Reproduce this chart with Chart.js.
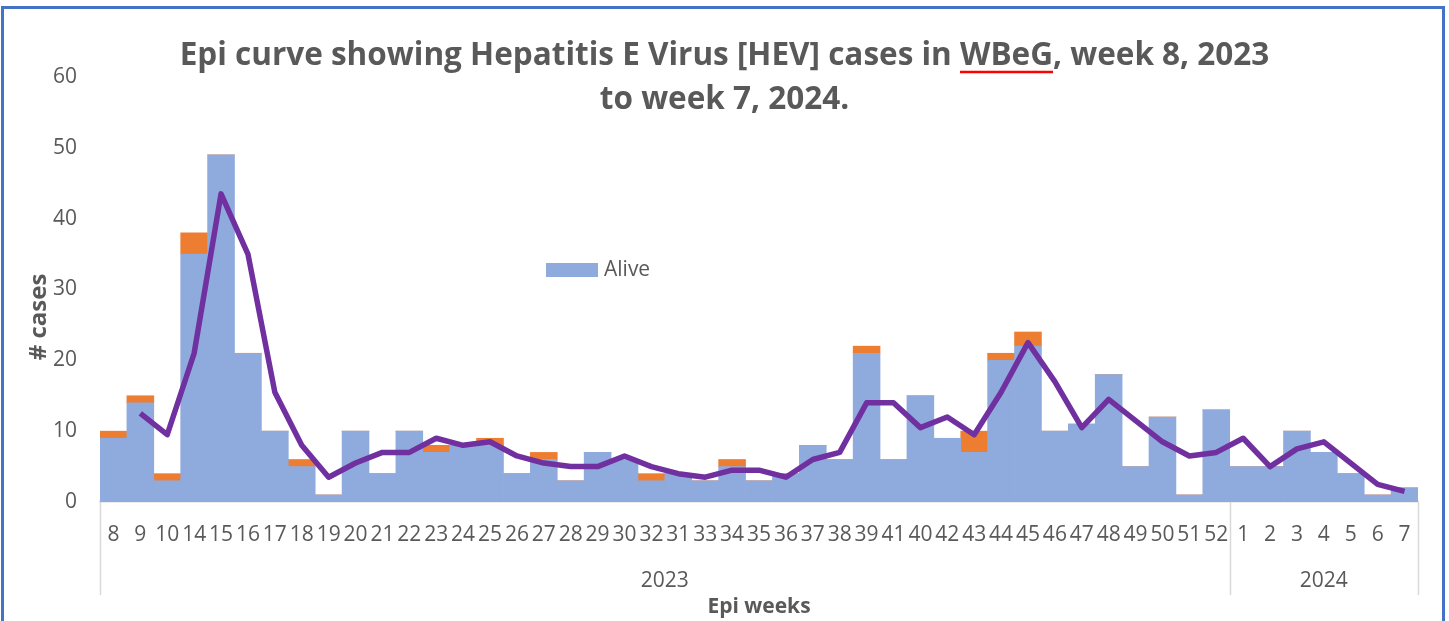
<!DOCTYPE html>
<html>
<head>
<meta charset="utf-8">
<script src="https://cdn.jsdelivr.net/npm/chart.js@4.4.1/dist/chart.umd.min.js"></script>
<style>
  html, body { margin: 0; padding: 0; background: #fff; overflow: hidden; }
  #frame { position: absolute; left: 1px; top: 6px; width: 1444px; height: 700px; box-sizing: border-box; border: 3px solid #4472C4; pointer-events: none; z-index: 2; }
  #myChart { position: absolute; left: 0; top: 0; }
</style>
</head>
<body>
<div id="frame"></div>
<canvas id="myChart" width="1449" height="621"></canvas>
<script>
// epi weeks, in the order they appear on the axis
const weeks = ['8','9','10','14','15','16','17','18','19','20','21','22','23','24','25','26','27','28','29','30',
  '32','31','33','34','35','36','37','38','39','41','40','42','43','44','45','46','47','48','49','50','51','52',
  '1','2','3','4','5','6','7'];
const years = ['2023', '2024'];
const yearWeekCounts = [42, 7];

const alive = [9,14,3,35,49,21,10,5,1,10,4,10,7,8,8,4,6,3,7,6,
  3,4,3,5,3,4,8,6,21,6,15,9,7,20,22,10,11,18,5,12,1,13,
  5,5,10,7,4,1,2];
const died = [1,1,1,3,0,0,0,1,0,0,0,0,1,0,1,0,1,0,0,0,
  1,0,0,1,0,0,0,0,1,0,0,0,3,1,2,0,0,0,0,0,0,0,
  0,0,0,0,0,0,0];
// 2 week moving average line as drawn
const movingAvg = [null,12.5,9.5,21,43.5,35,15.5,8,3.5,5.5,7,7,9,8,8.5,6.5,5.5,5,5,6.5,
  5,4,3.5,4.5,4.5,3.5,6,7,14,14,10.5,12,9.5,15.5,22.5,17,10.5,14.5,11.5,8.5,6.5,7,
  9,5,7.5,8.5,5.5,2.5,1.5];

const titleLines = ['Epi curve showing Hepatitis E Virus [HEV] cases in WBeG, week 8, 2023', 'to week 7, 2024.'];
const grey = '#595959';
const fam = "'Open Sans', sans-serif";
const titleSize = 31.5;

Chart.defaults.font.family = fam;
Chart.defaults.color = grey;

const extras = {
  id: 'extras',
  afterDraw(chart) {
    const ctx = chart.ctx;
    const x = chart.scales.x;
    const area = chart.chartArea;
    ctx.save();

    // year groups under the week labels
    const step = x.getPixelForValue(1) - x.getPixelForValue(0);
    let start = 0;
    const edges = [x.getPixelForValue(0) - step / 2];
    ctx.font = '21px ' + fam;
    ctx.fillStyle = grey;
    ctx.textAlign = 'center';
    ctx.textBaseline = 'middle';
    years.forEach((yr, i) => {
      const end = start + yearWeekCounts[i] - 1;
      const a = x.getPixelForValue(start) - step / 2;
      const b = x.getPixelForValue(end) + step / 2;
      edges.push(b);
      ctx.fillText(yr, (a + b) / 2, 581);
      start = end + 1;
    });
    ctx.strokeStyle = '#D9D9D9';
    ctx.lineWidth = 1.5;
    edges.forEach(px => {
      ctx.beginPath();
      ctx.moveTo(Math.round(px) + 0.5, area.bottom);
      ctx.lineTo(Math.round(px) + 0.5, 595);
      ctx.stroke();
    });

    // y axis title
    ctx.save();
    ctx.translate(39, 317);
    ctx.rotate(-Math.PI / 2);
    ctx.font = 'bold 24px ' + fam;
    ctx.fillText('# cases', 0, 0);
    ctx.restore();

    // legend (only Alive shown)
    const ds = chart.data.datasets[1];
    ctx.fillStyle = ds.backgroundColor;
    ctx.fillRect(546, 263, 52, 14);
    ctx.fillStyle = grey;
    ctx.textAlign = 'left';
    ctx.font = '21px ' + fam;
    ctx.fillText(ds.label, 604, 270);

    // spell-check underline under WBeG
    const tb = chart.titleBlock;
    ctx.font = 'bold ' + titleSize + 'px ' + fam;
    const full = ctx.measureText(titleLines[0]).width;
    const pre = ctx.measureText('Epi curve showing Hepatitis E Virus [HEV] cases in ').width;
    const w = ctx.measureText('WBeG').width;
    const x0 = (tb.left + tb.right) / 2 - full / 2 + pre;
    ctx.strokeStyle = '#FF0000';
    ctx.lineWidth = 2.5;
    ctx.beginPath();
    ctx.moveTo(x0, 72);
    ctx.lineTo(x0 + w, 72);
    ctx.stroke();
    ctx.restore();
  }
};

new Chart(document.getElementById('myChart'), {
  data: {
    labels: weeks,
    datasets: [
      {
        type: 'line',
        label: 'Moving average',
        data: movingAvg,
        borderColor: '#7030A0',
        borderWidth: 5.5,
        borderJoinStyle: 'round',
        pointRadius: 0,
        tension: 0,
        stack: 'ma',
        order: 0
      },
      {
        type: 'bar',
        label: 'Alive',
        data: alive,
        backgroundColor: '#8FAADC',
        stack: 'cases',
        categoryPercentage: 1,
        barPercentage: 1,
        order: 1
      },
      {
        type: 'bar',
        label: 'Died',
        data: died,
        backgroundColor: '#ED7D31',
        stack: 'cases',
        categoryPercentage: 1,
        barPercentage: 1,
        order: 1
      }
    ]
  },
  options: {
    responsive: false,
    animation: false,
    devicePixelRatio: 1,
    layout: { padding: { left: 31, right: 31, top: 0, bottom: 0 } },
    plugins: {
      legend: { display: false },
      tooltip: { enabled: false },
      title: {
        display: true,
        text: titleLines,
        color: grey,
        font: { size: titleSize, weight: 'bold', lineHeight: 44 / titleSize },
        padding: { top: 34, bottom: -45 }
      }
    },
    scales: {
      x: {
        stacked: true,
        grid: { display: false, drawTicks: false },
        border: { color: '#D9D9D9', width: 1.5 },
        ticks: { autoSkip: false, maxRotation: 0, font: { size: 21 }, color: grey, padding: 20 },
        title: { display: true, text: 'Epi weeks', color: grey, font: { size: 21, weight: 'bold' }, padding: { top: 0, bottom: 1 } },
        afterFit(scale) { scale.height = 119; }
      },
      y: {
        stacked: true,
        min: 0,
        max: 60,
        grid: { display: false, drawTicks: false },
        border: { display: false },
        ticks: { stepSize: 10, font: { size: 21 }, color: grey, padding: 23 },
        afterFit(scale) { scale.width = 69; }
      }
    }
  },
  plugins: [extras]
});
</script>
</body>
</html>
